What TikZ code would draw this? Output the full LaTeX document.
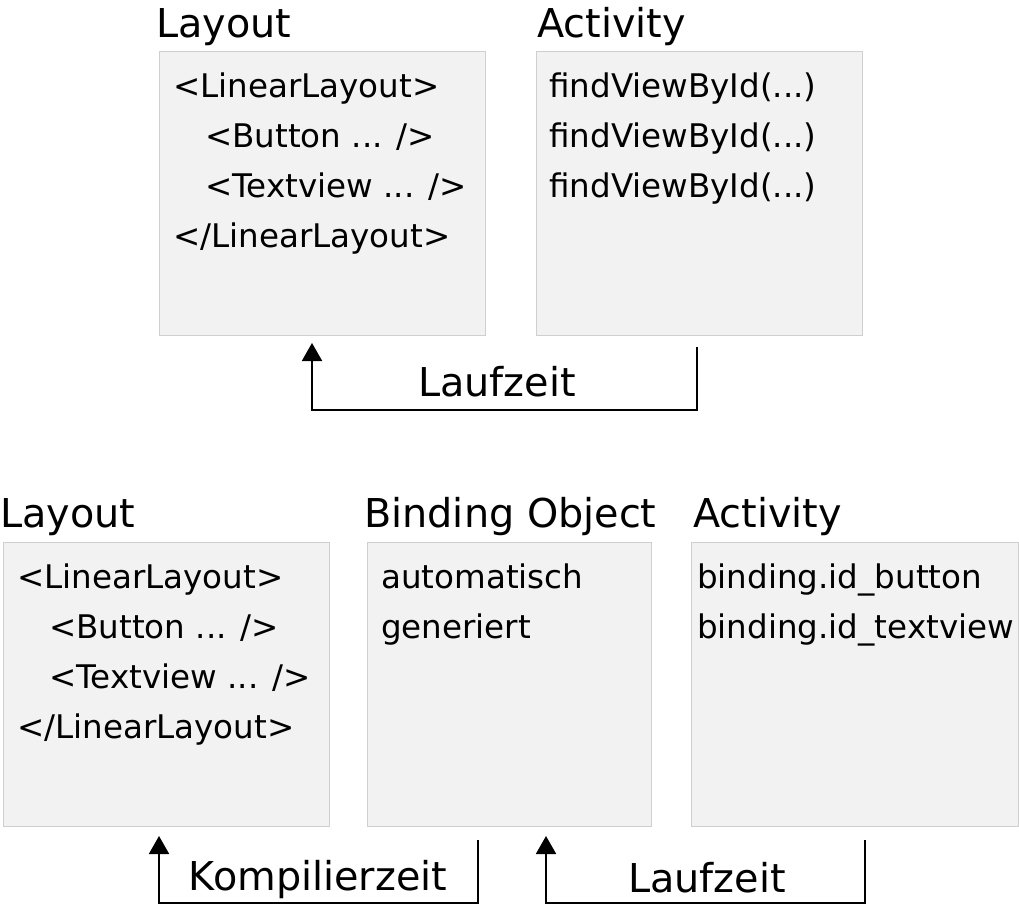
\documentclass[tikz,border=0pt]{standalone}
\usepackage{fontspec}
\setmainfont{DejaVu Sans}
\usetikzlibrary{arrows.meta}
\definecolor{boxfill}{HTML}{F2F2F2}
\definecolor{boxline}{HTML}{CFCFCF}
\tikzset{every picture/.style={x=0.75pt,y=-0.75pt}}
\tikzset{codebox/.style={draw=boxline,line width=0.75pt,fill=boxfill,inner sep=0pt}}
\tikzset{boxtitle/.style={anchor=base west,inner sep=0pt,font=\fontsize{29.8}{35}\selectfont}}
\tikzset{boxtext/.style={anchor=north west,inner sep=0pt,align=left,font=\fontsize{24.4}{37.5}\selectfont}}
\tikzset{zeitlabel/.style={anchor=base,inner sep=0pt,font=\fontsize{29.8}{35}\selectfont}}
\tikzset{zeitarrow/.style={line width=1.5pt,-{Triangle[width=15pt,length=13.5pt]}}}
\newcommand{\ind}{\hspace*{24pt}}

\begin{document}
\begin{tikzpicture}
\useasboundingbox (0,0) rectangle (1019,906);

% top row
\node[codebox,minimum width=244.5pt,minimum height=212.25pt] (layoutA) at (322,193.5) {};
\node[codebox,minimum width=244.5pt,minimum height=212.25pt] (activityA) at (699,193.5) {};
\node[boxtitle] (layoutAtitle) at (156,38) {Layout};
\node[boxtitle] (activityAtitle) at (537,38) {Activity};
\node[boxtext] (layoutAtext) at (173,73) {<LinearLayout>\\\ind<Button ... />\\\ind<Textview ... />\\</LinearLayout>};
\node[boxtext] (activityAtext) at (549,73) {findViewById(...)\\findViewById(...)\\findViewById(...)};

\coordinate (lzA-start) at (697,347);
\coordinate (lzA-end) at (312,343);
\draw[zeitarrow] (lzA-start) -- ++(0,63) -| (lzA-end);
\node[zeitlabel] (lzA) at (497,396) {Laufzeit};

% bottom row
\node[codebox,minimum width=244.5pt,minimum height=213pt] (layoutB) at (166,684) {};
\node[codebox,minimum width=213pt,minimum height=213pt] (bindingB) at (509,684) {};
\node[codebox,minimum width=245.25pt,minimum height=213pt] (activityB) at (854.5,684) {};
\node[boxtitle] (layoutBtitle) at (0,527) {Layout};
\node[boxtitle] (bindingBtitle) at (364,527) {Binding Object};
\node[boxtitle] (activityBtitle) at (693,527) {Activity};
\node[boxtext] (layoutBtext) at (17,564) {<LinearLayout>\\\ind<Button ... />\\\ind<Textview ... />\\</LinearLayout>};
\node[boxtext] (bindingBtext) at (381,564) {automatisch\\generiert};
\node[boxtext] (activityBtext) at (697,564) {binding.id\_button\\binding.id\_textview};

\coordinate (kz-start) at (478,840);
\coordinate (kz-end) at (159,836);
\draw[zeitarrow] (kz-start) -- ++(0,63) -| (kz-end);
\node[zeitlabel] (kz) at (318,890) {Kompilierzeit};

\coordinate (lzB-start) at (865,840);
\coordinate (lzB-end) at (546,836);
\draw[zeitarrow] (lzB-start) -- ++(0,63) -| (lzB-end);
\node[zeitlabel] (lzB) at (707,892) {Laufzeit};
\end{tikzpicture}
\end{document}
